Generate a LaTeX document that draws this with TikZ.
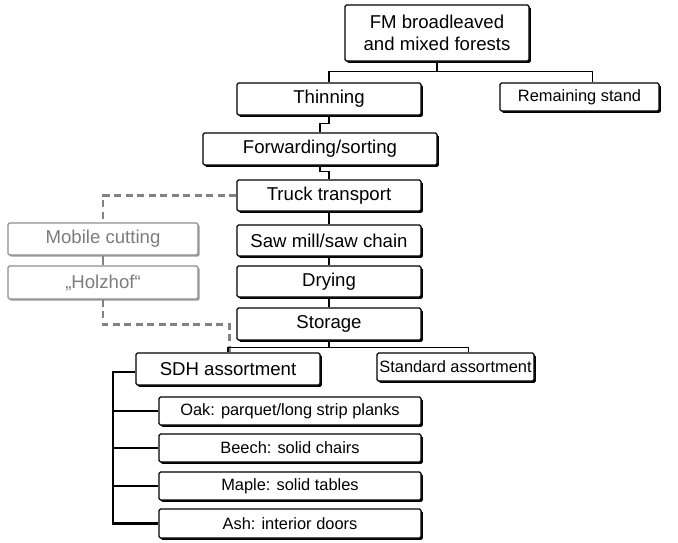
\documentclass[tikz,border=0pt]{standalone}
\usepackage{fontspec}
\setmainfont{Liberation Sans}
\usetikzlibrary{shadows}
\definecolor{gtext}{RGB}{125,125,125}
\definecolor{gline}{RGB}{130,130,130}
\begin{document}
\begin{tikzpicture}[x=1pt,y=-1pt,
  box/.style={draw=black, line width=1.2pt, fill=white, rounded corners=1.5pt, inner sep=0pt,
    drop shadow={shadow xshift=1.8pt, shadow yshift=-1.8pt, fill=black, opacity=1}},
  big/.style={font=\fontsize{18.6}{22}\selectfont},
  small/.style={font=\fontsize{16.4}{19}\selectfont},
  gbox/.style={draw=gline!90, line width=1.2pt, fill=white, rounded corners=1.5pt, inner sep=0pt, text=gtext,
    drop shadow={shadow xshift=1.6pt, shadow yshift=-1.6pt, fill=gline!80, opacity=1}},
  conn/.style={line width=1.5pt},
  bus/.style={line width=2.3pt},
  gdash/.style={draw=gline, line width=2.4pt, dash pattern=on 7pt off 4.5pt}
]
\useasboundingbox (0,0) rectangle (678,542);
\fill[white] (0,0) rectangle (678,542);

\node[box,big,minimum width=184pt,minimum height=56pt,align=center] (fm) at (437,33) {FM broadleaved\\and mixed forests};
\node[box,big,minimum width=184pt,minimum height=32pt] (thin) at (329,99) {Thinning};
\node[box,small,minimum width=159pt,minimum height=28pt] (rem) at (579.5,97) {Remaining stand};
\node[box,big,minimum width=234pt,minimum height=32pt] (fwd) at (320,149) {Forwarding/sorting};
\node[box,big,minimum width=184pt,minimum height=31pt] (truck) at (329,195.5) {Truck transport};
\node[box,big,minimum width=184pt,minimum height=31pt] (saw) at (329,240.5) {Saw mill/saw chain};
\node[box,big,minimum width=184pt,minimum height=31pt] (dry) at (329,281.5) {Drying};
\node[box,big,minimum width=184pt,minimum height=32pt] (stor) at (329,324) {Storage};
\node[gbox,big,minimum width=190pt,minimum height=32pt] (mob) at (103,239) {Mobile cutting};
\node[gbox,big,minimum width=190pt,minimum height=33pt] (holz) at (103,282.5) {„Holzhof“};
\node[box,big,minimum width=184pt,minimum height=32pt] (sdh) at (228,369) {SDH assortment};
\node[box,small,minimum width=157pt,minimum height=28pt] (std) at (455.5,367) {Standard assortment};
\node[box,small,minimum width=262pt,minimum height=28pt] (oak) at (290,411) {Oak: parquet/long strip planks};
\node[box,small,minimum width=262pt,minimum height=28pt] (beech) at (290,448) {Beech: solid chairs};
\node[box,small,minimum width=262pt,minimum height=28pt] (maple) at (290,486) {Maple: solid tables};
\node[box,small,minimum width=262pt,minimum height=29pt] (ash) at (290,523.5) {Ash: interior doors};

\coordinate (bus) at (113,372);

\draw[conn] (fm.south) -- ++(0,10) -| (thin.north);
\draw[conn] (fm.south) -- ++(0,10) -| ([xshift=13pt]rem.north);
\draw[conn] (thin.south) -- ++(0,8) -| (fwd.north);
\draw[conn] (fwd.south) -- ++(0,6) -| (truck.north);
\draw[conn] (truck.south) -- (saw.north);
\draw[conn] (saw.south) -- (dry.north);
\draw[conn] (dry.south) -- (stor.north);
\draw[gdash] (truck.west) -| (mob.north);
\draw[draw=gline, line width=2.4pt] (mob.south) -- (holz.north);
\draw[gdash] (holz.south) -- ++(0,25) -| ([xshift=1.5pt]sdh.north);
\draw[conn] (stor.south) -- ++(0,7) -| (sdh.north);
\draw[conn] (stor.south) -- ++(0,7) -| ([xshift=13pt]std.north);
\draw[bus] (sdh.west |- bus) -- (bus) -- (bus |- ash.west) -- (ash.west);
\draw[bus] (bus |- oak.west) -- (oak.west);
\draw[bus] (bus |- beech.west) -- (beech.west);
\draw[bus] (bus |- maple.west) -- (maple.west);
\end{tikzpicture}
\end{document}
